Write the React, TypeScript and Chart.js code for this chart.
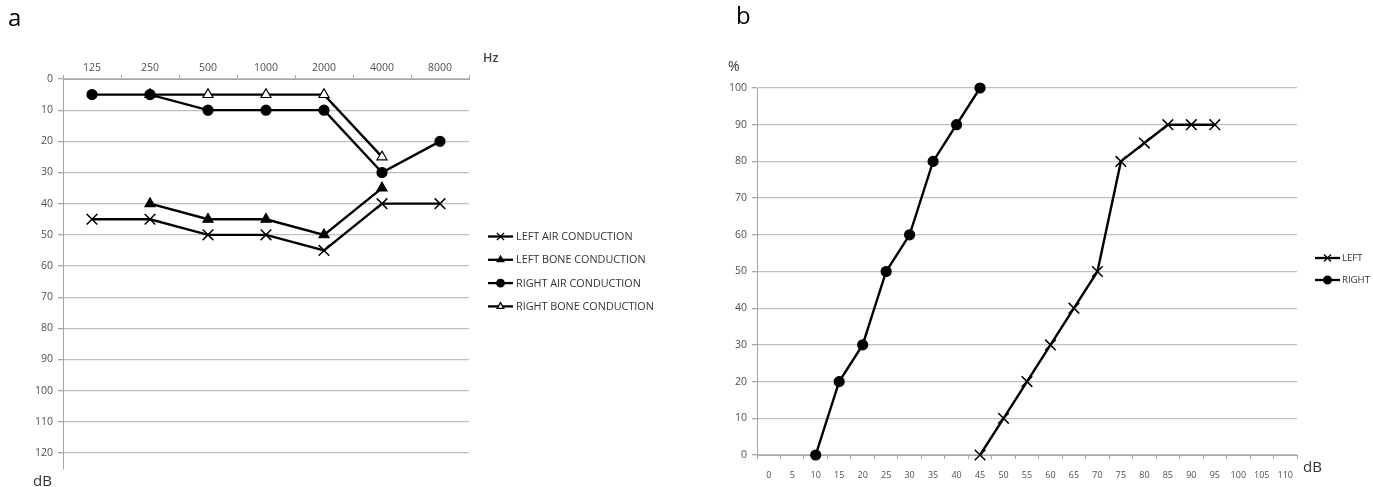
import React, { useEffect, useRef } from 'react';
import { Chart, registerables } from 'chart.js';
import { drawPoint } from 'chart.js/helpers';

Chart.register(...registerables);

// ---------- Panel a: audiogram ----------
const frequencies = ['125', '250', '500', '1000', '2000', '4000', '8000'];
const leftAir = [45, 45, 50, 50, 55, 40, 40];
const leftBone = [null, 40, 45, 45, 50, 35, null];
const rightAir = [5, 5, 10, 10, 10, 30, 20];
const rightBone = [null, 5, 5, 5, 5, 25, null];
const hearingTicks = [0, 10, 20, 30, 40, 50, 60, 70, 80, 90, 100, 110, 120];

// ---------- Panel b: speech audiometry ----------
const speechLevels = ['0', '5', '10', '15', '20', '25', '30', '35', '40', '45', '50', '55', '60', '65', '70', '75', '80', '85', '90', '95', '100', '105', '110'];
const leftDb = ['45', '50', '55', '60', '65', '70', '75', '80', '85', '90', '95'];
const leftPct = [0, 10, 20, 30, 40, 50, 80, 85, 90, 90, 90];
const rightDb = ['10', '15', '20', '25', '30', '35', '40', '45'];
const rightPct = [0, 20, 30, 50, 60, 80, 90, 100];
const percentTicks = [0, 10, 20, 30, 40, 50, 60, 70, 80, 90, 100];

const FONT = "'Open Sans', 'DejaVu Sans', sans-serif";
const TICK_COLOR = '#505050';
const GRID_COLOR = '#c0c0c0';
const AXIS_COLOR = '#a6a6a6';

const sideLegend = {
  id: 'sideLegend',
  afterDraw(chart: any, _args: any, opts: any) {
    const { ctx } = chart;
    ctx.save();
    chart.data.datasets.forEach((ds: any, i: number) => {
      const y = opts.top + i * opts.spacing;
      const x = opts.left;
      ctx.strokeStyle = '#000';
      ctx.lineWidth = 2.3;
      ctx.beginPath();
      ctx.moveTo(x, y);
      ctx.lineTo(x + 25, y);
      ctx.stroke();
      ctx.fillStyle = ds.pointBackgroundColor;
      ctx.strokeStyle = '#000';
      ctx.lineWidth = 1.3;
      const r = ds.pointStyle === 'crossRot' ? 5 : 3.8;
      drawPoint(ctx, { pointStyle: ds.pointStyle, radius: r, rotation: 0, borderWidth: 1.3 } as any, x + 12.5, y);
      ctx.fillStyle = '#333';
      ctx.font = `${opts.fontSize}px ${FONT}`;
      ctx.textBaseline = 'middle';
      ctx.textAlign = 'left';
      ctx.fillText(ds.label, x + opts.textGap, y + 0.5);
    });
    ctx.restore();
  },
};

function seriesStyle(label: string, style: string, fill: string, radius: number) {
  return {
    label,
    borderColor: '#000',
    borderWidth: 2.4,
    pointStyle: style,
    pointRadius: radius,
    pointBackgroundColor: fill,
    pointBorderColor: '#000',
    pointBorderWidth: style === 'crossRot' ? 1.5 : 1.2,
    tension: 0,
    fill: false,
    clip: false,
  };
}

export default function App() {
  const refA = useRef<HTMLCanvasElement>(null);
  const refB = useRef<HTMLCanvasElement>(null);

  useEffect(() => {
    const chartA = new Chart(refA.current as HTMLCanvasElement, {
      type: 'line',
      data: {
        labels: frequencies,
        datasets: [
          { ...seriesStyle('LEFT AIR CONDUCTION', 'crossRot', '#000', 7.5), data: leftAir },
          { ...seriesStyle('LEFT BONE CONDUCTION', 'triangle', '#000', 5.8), data: leftBone },
          { ...seriesStyle('RIGHT AIR CONDUCTION', 'circle', '#000', 5), data: rightAir },
          { ...seriesStyle('RIGHT BONE CONDUCTION', 'triangle', '#fff', 5.8), data: rightBone },
        ] as any,
      },
      options: {
        animation: false,
        responsive: false,
        maintainAspectRatio: false,
        events: [],
        layout: { padding: { top: 0, left: 0, right: 221, bottom: 18.4 } },
        plugins: {
          legend: { display: false },
          tooltip: { enabled: false },
          sideLegend: { left: 488, top: 236.5, spacing: 23.3, fontSize: 10.8, textGap: 28 },
        } as any,
        scales: {
          x: {
            type: 'category',
            position: 'top',
            offset: true,
            grid: { offset: true, drawOnChartArea: false, drawTicks: true, tickLength: 4, color: AXIS_COLOR },
            border: { color: AXIS_COLOR, width: 1 },
            ticks: { color: TICK_COLOR, font: { family: FONT, size: 10.5 }, padding: 1, maxRotation: 0 },
            afterFit: (s: any) => { s.height = 79; },
          },
          y: {
            type: 'linear',
            reverse: true,
            min: 0,
            max: 125,
            afterBuildTicks: (s: any) => { s.ticks = hearingTicks.map((v) => ({ value: v })); },
            grid: { color: GRID_COLOR, lineWidth: 1.3, tickLength: 5, tickColor: AXIS_COLOR },
            border: { color: AXIS_COLOR, width: 1 },
            ticks: { color: TICK_COLOR, font: { family: FONT, size: 10.5 }, padding: 5 },
            afterFit: (s: any) => { s.width = 63; },
          },
        },
      },
      plugins: [sideLegend],
    });

    const chartB = new Chart(refB.current as HTMLCanvasElement, {
      type: 'line',
      data: {
        labels: speechLevels,
        datasets: [
          {
            ...seriesStyle('LEFT', 'crossRot', '#000', 7.5),
            data: leftDb.map((d, i) => ({ x: d, y: leftPct[i] })),
          },
          {
            ...seriesStyle('RIGHT', 'circle', '#000', 5),
            data: rightDb.map((d, i) => ({ x: d, y: rightPct[i] })),
          },
        ] as any,
      },
      options: {
        animation: false,
        responsive: false,
        maintainAspectRatio: false,
        events: [],
        layout: { padding: { top: 88, left: 0, right: 76, bottom: 0 } },
        plugins: {
          legend: { display: false },
          tooltip: { enabled: false },
          sideLegend: { left: 625, top: 258, spacing: 22, fontSize: 9.6, textGap: 27 },
        } as any,
        scales: {
          x: {
            type: 'category',
            offset: true,
            grid: { offset: true, drawOnChartArea: false, drawTicks: true, tickLength: 4, color: AXIS_COLOR },
            border: { color: AXIS_COLOR, width: 1 },
            ticks: { color: TICK_COLOR, font: { family: FONT, size: 9 }, padding: 11, maxRotation: 0, autoSkip: false },
            afterFit: (s: any) => { s.height = 32; },
          },
          y: {
            type: 'linear',
            min: 0,
            max: 100,
            afterBuildTicks: (s: any) => { s.ticks = percentTicks.map((v) => ({ value: v })); },
            grid: { color: GRID_COLOR, lineWidth: 1.3, tickLength: 5, tickColor: AXIS_COLOR },
            border: { color: AXIS_COLOR, width: 1 },
            ticks: { color: TICK_COLOR, font: { family: FONT, size: 10.5 }, padding: 5 },
            afterFit: (s: any) => { s.width = 67; },
          },
        },
      },
      plugins: [sideLegend],
    });

    return () => {
      chartA.destroy();
      chartB.destroy();
    };
  }, []);

  const label = (text: string, left: number, top: number, size: number, weight = 400, color = '#222') => (
    <div
      style={{
        position: 'absolute',
        left,
        top,
        fontFamily: FONT,
        fontSize: size,
        fontWeight: weight,
        color,
        lineHeight: 1,
        whiteSpace: 'nowrap',
      }}
    >
      {text}
    </div>
  );

  return (
    <div style={{ position: 'absolute', left: 0, top: 0, width: 1373, height: 487, background: '#fff', overflow: 'hidden' }}>
      <canvas ref={refA} width={690} height={487} style={{ position: 'absolute', left: 0, top: 0, width: 690, height: 487 }} />
      <canvas ref={refB} width={683} height={487} style={{ position: 'absolute', left: 690, top: 0, width: 683, height: 487 }} />
      {label('a', 8, 5, 24, 400, '#000')}
      {label('b', 736, 3, 24, 400, '#000')}
      {label('Hz', 483, 52, 12.5, 600, '#404040')}
      {label('dB', 33, 473, 15, 400, '#333')}
      {label('%', 728, 59, 14, 400, '#333')}
      {label('dB', 1303, 459, 15, 400, '#333')}
    </div>
  );
}
